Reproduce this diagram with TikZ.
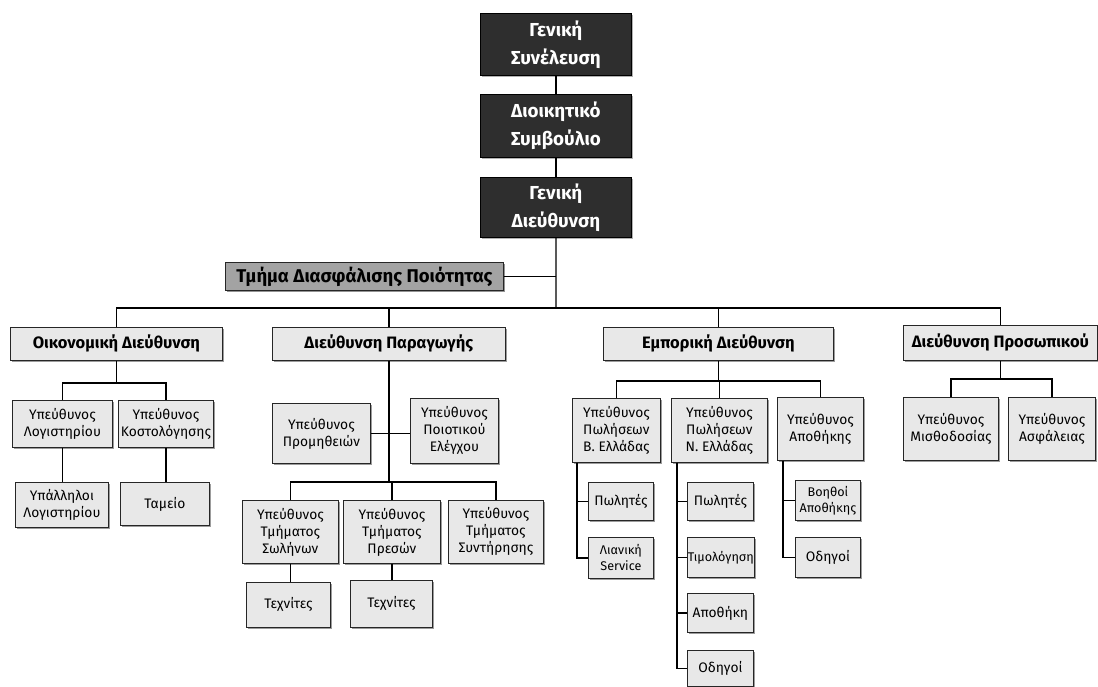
\documentclass[tikz,border=0pt]{standalone}
\usepackage{fontspec}
\setmainfont{Fira Sans}
\usetikzlibrary{shadows}

% \orgbox{name}{style}{x1}{y1}{x2}{y2}{text}: a box given by its corners
\newcommand\orgbox[7]{%
  \node[#2, anchor=north west,
        minimum width={(#5-#3)*1pt}, minimum height={(#6-#4)*1pt}]
        (#1) at (#3,#4) {#7};}

\tikzset{
  link/.style={line width=1.2pt, draw=black},
  unit/.style={draw=black!85, line width=0.8pt, fill=black!9,
    drop shadow={shadow xshift=1.6pt, shadow yshift=-1.8pt, fill=black!55, opacity=0.7},
    align=center, inner sep=0.5pt,
    font=\fontsize{13.8}{17}\selectfont},
  narrow/.style={font=\fontsize{12.6}{16}\selectfont},
  dept/.style={unit, font=\bfseries\fontsize{16.5}{19}\selectfont},
  topbox/.style={draw=black, line width=0.8pt, fill=black!82, text=white,
    align=center, inner sep=1pt,
    drop shadow={shadow xshift=1.2pt, shadow yshift=-1.2pt, fill=black!50, opacity=0.6},
    font=\bfseries\fontsize{18.8}{28}\selectfont},
  quality/.style={draw=black!85, line width=0.8pt, fill=black!36,
    align=center, inner sep=1pt,
    drop shadow={shadow xshift=1.8pt, shadow yshift=-1.8pt, fill=black!60, opacity=0.7},
    font=\bfseries\fontsize{18.5}{20}\selectfont},
}

\begin{document}
\begin{tikzpicture}[x=1pt, y=-1pt]
\fill[white] (0,0) rectangle (1098,687);
\useasboundingbox (0,0) rectangle (1098,687);

% governing bodies
\orgbox{gs}{topbox}{480}{13}{631}{75}{Γενική\\Συνέλευση}
\orgbox{ds}{topbox}{480}{94}{631}{157}{Διοικητικό\\Συμβούλιο}
\orgbox{gd}{topbox}{480}{177}{631}{237}{Γενική\\Διεύθυνση}
\orgbox{qa}{quality}{225}{262}{503}{290}{Τμήμα Διασφάλισης Ποιότητας}

% departments
\orgbox{oik}{dept}{10}{327}{222}{360}{Οικονομική Διεύθυνση}
\orgbox{par}{dept}{272}{327}{505}{360}{Διεύθυνση Παραγωγής}
\orgbox{emp}{dept}{603}{327}{833}{360}{Εμπορική Διεύθυνση}
\orgbox{pro}{dept}{903}{325}{1097}{360}{Διεύθυνση Προσωπικού}

% finance
\orgbox{lg}{unit}{12}{400}{112}{447}{Υπεύθυνος\\Λογιστηρίου}
\orgbox{ks}{unit}{118}{400}{213}{447}{Υπεύθυνος\\Κοστολόγησης}
\orgbox{yl}{unit}{15}{482}{108}{527}{Υπάλληλοι\\Λογιστηρίου}
\orgbox{tm}{unit}{120}{482}{209}{525}{Ταμείο}

% production
\orgbox{pr}{unit}{272}{403}{370}{463}{Υπεύθυνος\\Προμηθειών}
\orgbox{pe}{unit}{410}{398}{498}{463}{Υπεύθυνος\\Ποιοτικού\\Ελέγχου}
\orgbox{sw}{unit}{242}{500}{338}{563}{Υπεύθυνος\\Τμήματος\\Σωλήνων}
\orgbox{ps}{unit}{343}{500}{440}{563}{Υπεύθυνος\\Τμήματος\\Πρεσών}
\orgbox{sy}{unit}{448}{500}{543}{563}{Υπεύθυνος\\Τμήματος\\Συντήρησης}
\orgbox{ta}{unit}{246}{582}{330}{627}{Τεχνίτες}
\orgbox{tb}{unit}{350}{580}{432}{627}{Τεχνίτες}

% sales
\orgbox{bv}{unit}{572}{398}{660}{462}{Υπεύθυνος\\Πωλήσεων\\Β. Ελλάδας}
\orgbox{nv}{unit}{671}{398}{767}{462}{Υπεύθυνος\\Πωλήσεων\\Ν. Ελλάδας}
\orgbox{ap}{unit}{777}{397}{863}{460}{Υπεύθυνος\\Αποθήκης}
\orgbox{bp}{unit}{588}{482}{653}{520}{Πωλητές}
\orgbox{bl}{unit,narrow}{588}{537}{653}{578}{Λιανική\\Service}
\orgbox{np}{unit}{687}{482}{753}{520}{Πωλητές}
\orgbox{nt}{unit,narrow}{687}{537}{753}{577}{Τιμολόγηση}
\orgbox{na}{unit}{687}{593}{753}{632}{Αποθήκη}
\orgbox{no}{unit}{687}{650}{753}{686}{Οδηγοί}
\orgbox{ab}{unit,narrow}{795}{480}{860}{520}{Βοηθοί\\Αποθήκης}
\orgbox{ao}{unit}{795}{537}{860}{577}{Οδηγοί}

% personnel
\orgbox{ms}{unit}{903}{397}{998}{460}{Υπεύθυνος\\Μισθοδοσίας}
\orgbox{as}{unit}{1008}{397}{1095}{460}{Υπεύθυνος\\Ασφάλειας}

% top chain and main bus
\coordinate (bus) at (556,308);
\draw[link] (gs.south) -- (ds.north);
\draw[link] (ds.south) -- (gd.north);
\draw[link] (gd.south) -- (bus);
\draw[link] (qa.east) -- (qa.east -| gd.south);
\draw[link] (oik.north) |- (bus) -| (pro.north);
\draw[link] (par.north) -- (par.north |- bus);
\draw[link] (emp.north) -- (emp.north |- bus);

% finance links
\coordinate (oikbus) at (oik.south |- 0,383);
\draw[link] (oik.south) -- (oikbus);
\draw[link] (lg.north) |- (oikbus) -| (ks.north);
\draw[link] (lg.south) -- (lg.south |- yl.north);
\draw[link] (ks.south) -- (ks.south |- tm.north);

% production links
\coordinate (parbus) at (par.south |- 0,482);
\draw[link] (par.south) -- (parbus);
\draw[link] (pr.east) -- (pr.east -| pe.west);
\draw[link] (sw.north) |- (parbus) -| (sy.north);
\draw[link] (ps.north) -- (ps.north |- parbus);
\draw[link] (sw.south) -- (sw.south |- ta.north);
\draw[link] (ps.south) -- (ps.south |- tb.north);

% sales links
\coordinate (empbus) at (emp.south |- 0,381);
\draw[link] (emp.south) -- (empbus);
\draw[link] (bv.north) |- (empbus) -| (ap.north);
\draw[link] (nv.north) -- (nv.north |- empbus);
\draw[link] ([xshift=5pt]bv.south west) |- (bp.west);
\draw[link] ([xshift=5pt]bv.south west) |- (bl.west);
\draw[link] ([xshift=6pt]nv.south west) |- (np.west);
\draw[link] ([xshift=6pt]nv.south west) |- (nt.west);
\draw[link] ([xshift=6pt]nv.south west) |- (na.west);
\draw[link] ([xshift=6pt]nv.south west) |- (no.west);
\draw[link] ([xshift=6pt]ap.south west) |- (ab.west);
\draw[link] ([xshift=6pt]ap.south west) |- (ao.west);

% personnel links
\coordinate (probus) at (pro.south |- 0,379);
\draw[link] (pro.south) -- (probus);
\draw[link] (ms.north) |- (probus) -| (as.north);
\end{tikzpicture}
\end{document}
